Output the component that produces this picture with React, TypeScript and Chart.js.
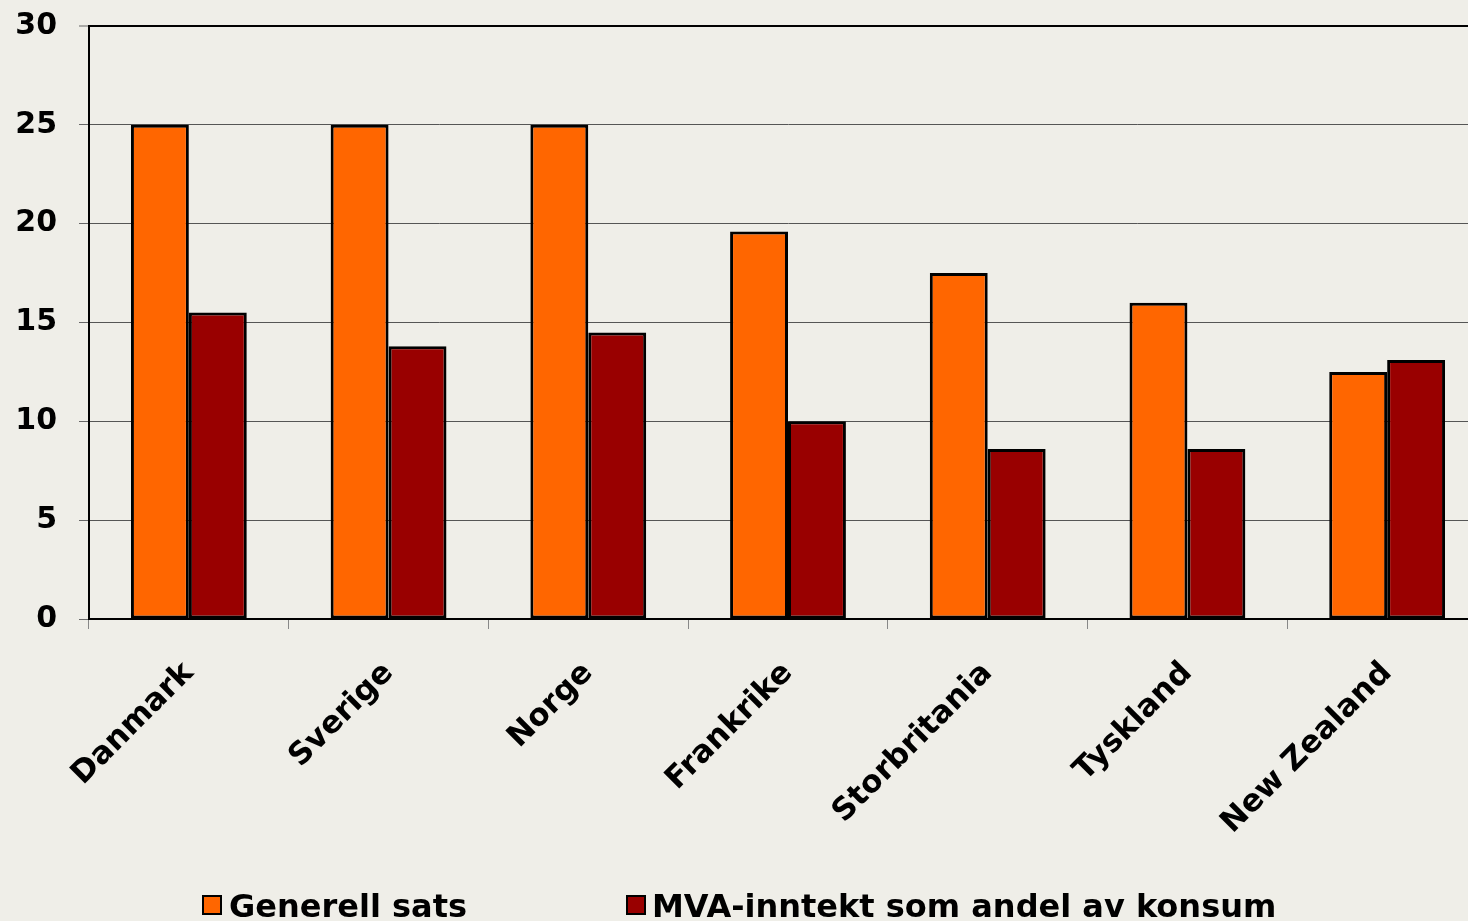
import React, { useEffect, useRef } from "react";
import { Chart, registerables } from "chart.js";

Chart.register(...registerables);

const categories = ["Danmark", "Sverige", "Norge", "Frankrike", "Storbritania", "Tyskland", "New Zealand"];
const generellSats = [25, 25, 25, 19.6, 17.5, 16, 12.5];
const mvaInntekt = [15.5, 13.8, 14.5, 10, 8.6, 8.6, 13.1];
const seriesNames = ["Generell sats", "MVA-inntekt som andel av konsum"];
const yMin = 0;
const yMax = 30;
const yStep = 5;

const BG = "#EFEEE8";
const ORANGE = "#FF6600";
const DARKRED = "#990000";
const FONT = "'DejaVu Sans', Verdana, sans-serif";

const bgPlugin = {
  id: "bgFill",
  beforeDraw(chart: any) {
    const { ctx, width, height } = chart;
    ctx.save();
    ctx.fillStyle = BG;
    ctx.fillRect(0, 0, width, height);
    ctx.restore();
  },
};

const legendPlugin = {
  id: "customLegend",
  afterDraw(chart: any) {
    const { ctx } = chart;
    const items = [
      { box: 203, text: 229, color: ORANGE, label: seriesNames[0] },
      { box: 627, text: 652, color: DARKRED, label: seriesNames[1] },
    ];
    const boxTop = 896;
    const boxSize = 18;
    ctx.save();
    ctx.font = `bold 32px ${FONT}`;
    ctx.textBaseline = "alphabetic";
    ctx.textAlign = "left";
    items.forEach((it) => {
      ctx.fillStyle = it.color;
      ctx.fillRect(it.box, boxTop, boxSize, boxSize);
      ctx.lineWidth = 2;
      ctx.strokeStyle = "#000";
      ctx.strokeRect(it.box, boxTop, boxSize, boxSize);
      ctx.fillStyle = "#000";
      ctx.fillText(it.label, it.text, 917);
    });
    ctx.restore();
  },
};

export default function App() {
  const canvasRef = useRef<HTMLCanvasElement | null>(null);

  useEffect(() => {
    document.body.style.background = BG;
    document.body.style.overflow = "hidden";
    const canvas = canvasRef.current;
    if (!canvas) return;
    const chart = new Chart(canvas, {
      type: "bar",
      data: {
        labels: categories,
        datasets: [
          {
            label: seriesNames[0],
            data: generellSats,
            backgroundColor: ORANGE,
            borderColor: "#000",
            borderWidth: 3,
            borderSkipped: false,
          },
          {
            label: seriesNames[1],
            data: mvaInntekt,
            backgroundColor: DARKRED,
            borderColor: "#000",
            borderWidth: 3,
            borderSkipped: false,
          },
        ],
      },
      options: {
        animation: false,
        responsive: false,
        maintainAspectRatio: false,
        devicePixelRatio: 1,
        layout: { padding: { top: 0, right: 3, bottom: 0, left: 0 } },
        datasets: {
          bar: { barPercentage: 1, categoryPercentage: 0.58 },
        },
        plugins: {
          legend: { display: false },
          tooltip: { enabled: false },
          title: { display: false },
        },
        scales: {
          x: {
            afterFit(scale: any) {
              scale.height = 302;
            },
            grid: {
              offset: true,
              drawOnChartArea: false,
              drawTicks: true,
              tickLength: 10,
              tickColor: "#888",
              tickWidth: 1,
            },
            border: { display: true, color: "#000", width: 2 },
            ticks: {
              color: "#000",
              font: { family: FONT, weight: "bold", size: 31 },
              maxRotation: 45,
              minRotation: 45,
              padding: 26,
              autoSkip: false,
            },
          },
          y: {
            min: yMin,
            max: yMax,
            afterFit(scale: any) {
              scale.width = 89;
              scale.paddingTop = 26;
            },
            grid: {
              color: (c: any) => (c.tick && c.tick.value === yMax ? "#000" : "#555"),
              lineWidth: (c: any) => (c.tick && c.tick.value === yMax ? 2 : 1),
              drawTicks: true,
              tickLength: 10,
              tickColor: "#666",
              tickWidth: 1,
            },
            border: { display: true, color: "#000", width: 2 },
            ticks: {
              stepSize: yStep,
              color: "#000",
              font: { family: FONT, weight: "bold", size: 30, lineHeight: 1 },
              padding: 22,
            },
          },
        },
      },
      plugins: [bgPlugin, legendPlugin],
    });
    return () => {
      chart.destroy();
    };
  }, []);

  return (
    <div
      style={{
        position: "fixed",
        left: 0,
        top: 0,
        width: 1490,
        height: 921,
        overflow: "hidden",
        background: BG,
      }}
    >
      <canvas ref={canvasRef} width={1490} height={921} style={{ display: "block", width: 1490, height: 921 }} />
    </div>
  );
}
